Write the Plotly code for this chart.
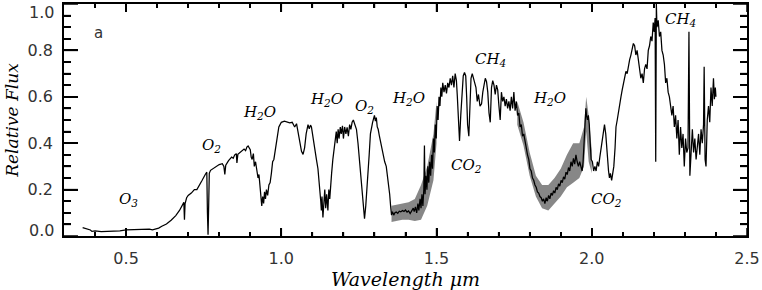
import plotly.graph_objects as go

# ---------------- data ----------------
wavelength = [
    0.360, 0.370, 0.380, 0.385, 0.390, 0.400, 0.420, 0.450, 0.480, 0.500,
    0.520, 0.540, 0.560, 0.575, 0.585, 0.595, 0.605,
    0.615, 0.630, 0.645, 0.660, 0.672, 0.682, 0.686, 0.688, 0.690, 0.695,
    0.700, 0.710, 0.715, 0.720, 0.728, 0.735, 0.745, 0.755, 0.760, 0.762,
    0.764, 0.766, 0.768, 0.772,
    0.780, 0.790, 0.800, 0.810, 0.815, 0.818, 0.821, 0.830, 0.840, 0.845,
    0.850, 0.855, 0.857, 0.860, 0.868, 0.875, 0.880, 0.885, 0.889, 0.893,
    0.897, 0.900, 0.903, 0.906, 0.910, 0.913, 0.917, 0.921, 0.925, 0.928,
    0.931, 0.934, 0.937, 0.940, 0.943, 0.946, 0.949, 0.952, 0.956, 0.960,
    0.964, 0.968, 0.972, 0.976, 0.980, 0.985, 0.988, 0.992, 0.996,
    1.000, 1.010, 1.020, 1.027, 1.035, 1.043, 1.049, 1.055, 1.060, 1.065,
    1.070, 1.075, 1.080, 1.086, 1.090, 1.094, 1.097, 1.102, 1.108, 1.113,
    1.118, 1.121, 1.124, 1.127, 1.129, 1.131, 1.134, 1.137, 1.140, 1.143,
    1.146, 1.150, 1.153, 1.156, 1.159, 1.162, 1.166, 1.170, 1.174, 1.177,
    1.180, 1.183, 1.186, 1.190, 1.193, 1.197, 1.200, 1.204, 1.208, 1.212,
    1.216, 1.220, 1.224, 1.228, 1.232, 1.236, 1.242, 1.247, 1.252, 1.256,
    1.260, 1.264, 1.268, 1.272, 1.276, 1.279, 1.283, 1.287, 1.290, 1.294,
    1.297, 1.300, 1.303, 1.306, 1.309, 1.312, 1.316, 1.320, 1.324, 1.328,
    1.333, 1.338, 1.342, 1.346, 1.349, 1.352, 1.355,
    1.358, 1.362, 1.366, 1.370, 1.375, 1.380, 1.385, 1.390, 1.395, 1.400,
    1.405, 1.410, 1.415, 1.420, 1.425, 1.428, 1.432, 1.436, 1.440, 1.443,
    1.447, 1.450, 1.453, 1.456, 1.459, 1.461, 1.463, 1.466, 1.469, 1.472,
    1.475, 1.478, 1.481, 1.484, 1.487, 1.490, 1.493, 1.496, 1.499, 1.502,
    1.505, 1.508, 1.511, 1.514, 1.517, 1.520, 1.524, 1.528, 1.532, 1.536,
    1.540, 1.544, 1.548, 1.552, 1.556, 1.560, 1.564, 1.567, 1.570, 1.574,
    1.578, 1.582, 1.586, 1.590, 1.594, 1.597, 1.600, 1.604, 1.607, 1.611,
    1.615, 1.619, 1.623, 1.627, 1.631, 1.635, 1.640, 1.645, 1.649, 1.653,
    1.657, 1.661, 1.665, 1.669, 1.673, 1.677, 1.681, 1.685, 1.689, 1.693,
    1.697, 1.701, 1.705, 1.709, 1.713, 1.717, 1.721, 1.725, 1.729, 1.733,
    1.737, 1.741, 1.745, 1.749, 1.753, 1.757, 1.761, 1.765, 1.769, 1.773,
    1.777, 1.781, 1.785, 1.789, 1.793, 1.797, 1.801, 1.805, 1.809, 1.813,
    1.817, 1.821, 1.825, 1.829, 1.833, 1.837, 1.841, 1.845, 1.849, 1.853,
    1.857, 1.861, 1.865, 1.869, 1.873, 1.877, 1.881, 1.885, 1.889, 1.893,
    1.897, 1.901, 1.905, 1.909, 1.913, 1.917, 1.921, 1.925, 1.929, 1.933,
    1.937, 1.941, 1.945, 1.949, 1.953, 1.957, 1.961, 1.965, 1.969, 1.972,
    1.975, 1.978, 1.981, 1.983, 1.986, 1.989, 1.992, 1.995, 1.998, 2.002,
    2.006, 2.010, 2.014, 2.018, 2.022, 2.026, 2.030, 2.034, 2.038, 2.041,
    2.045, 2.048, 2.051, 2.054, 2.057, 2.060, 2.064, 2.067, 2.071, 2.075,
    2.078, 2.082, 2.086, 2.090, 2.094, 2.098, 2.102, 2.106, 2.110, 2.114,
    2.118, 2.122, 2.126, 2.130, 2.134, 2.138, 2.142, 2.146, 2.150, 2.154,
    2.158, 2.162, 2.166, 2.170, 2.174, 2.178, 2.182, 2.186, 2.190, 2.194,
    2.198, 2.201, 2.204, 2.206, 2.208, 2.210, 2.214, 2.218, 2.222, 2.226,
    2.230, 2.234, 2.238, 2.242, 2.246, 2.250, 2.254, 2.258, 2.262, 2.266,
    2.270, 2.274, 2.278, 2.282, 2.286, 2.290, 2.294, 2.298, 2.302, 2.306,
    2.310, 2.313, 2.316, 2.320, 2.324, 2.328, 2.332, 2.336, 2.340, 2.344,
    2.348, 2.352, 2.356, 2.360, 2.362, 2.365, 2.368, 2.372, 2.376, 2.380,
    2.384, 2.388, 2.392, 2.395, 2.398, 2.400,
]

flux = [
    0.036, 0.033, 0.030, 0.026, 0.020, 0.022, 0.019, 0.020, 0.022, 0.026,
    0.027, 0.028, 0.029, 0.030, 0.027, 0.030, 0.034,
    0.042, 0.052, 0.068, 0.088, 0.110, 0.135, 0.145, 0.070, 0.140, 0.165,
    0.175, 0.185, 0.192, 0.200, 0.200, 0.215, 0.240, 0.265, 0.275, 0.100,
    0.005, 0.130, 0.270, 0.283,
    0.290, 0.300, 0.308, 0.312, 0.300, 0.265, 0.305, 0.325, 0.340, 0.335,
    0.350, 0.355, 0.315, 0.352, 0.362, 0.370, 0.375, 0.368, 0.383, 0.388,
    0.378, 0.372, 0.340, 0.330, 0.355, 0.300, 0.320, 0.280, 0.250, 0.265,
    0.220, 0.175, 0.130, 0.170, 0.140, 0.190, 0.160, 0.200, 0.175, 0.220,
    0.230, 0.270, 0.320, 0.330, 0.370, 0.420, 0.445, 0.470, 0.480,
    0.490, 0.495, 0.492, 0.488, 0.490, 0.470, 0.484, 0.440, 0.400, 0.365,
    0.352, 0.380, 0.440, 0.480, 0.462, 0.478, 0.470, 0.420, 0.370, 0.330,
    0.290, 0.250, 0.200, 0.150, 0.110, 0.170, 0.080, 0.150, 0.200, 0.120,
    0.180, 0.110, 0.200, 0.160, 0.240, 0.270, 0.330, 0.380, 0.410, 0.450,
    0.400, 0.460, 0.420, 0.470, 0.440, 0.475, 0.420, 0.470, 0.440, 0.468,
    0.430, 0.480, 0.460, 0.490, 0.500, 0.480, 0.460, 0.400, 0.320, 0.250,
    0.180, 0.120, 0.075, 0.130, 0.200, 0.260, 0.350, 0.440, 0.470, 0.490,
    0.505, 0.520, 0.495, 0.510, 0.470, 0.460, 0.430, 0.400, 0.380, 0.350,
    0.320, 0.300, 0.260, 0.220, 0.180, 0.130, 0.090,
    0.105, 0.090, 0.100, 0.103, 0.098, 0.107, 0.104, 0.110, 0.106, 0.112,
    0.103, 0.108, 0.097, 0.110, 0.120, 0.105, 0.125, 0.100, 0.140, 0.110,
    0.160, 0.120, 0.180, 0.130, 0.200, 0.390, 0.180, 0.260, 0.200, 0.300,
    0.230, 0.320, 0.260, 0.350, 0.290, 0.420, 0.360, 0.480, 0.420, 0.560,
    0.500, 0.600, 0.560, 0.640, 0.600, 0.660, 0.620, 0.650, 0.615, 0.660,
    0.640, 0.680, 0.650, 0.690, 0.640, 0.700, 0.670, 0.600, 0.500, 0.410,
    0.520, 0.640, 0.690, 0.705, 0.690, 0.600, 0.480, 0.430, 0.560, 0.680,
    0.700, 0.680, 0.660, 0.640, 0.580, 0.610, 0.560, 0.570, 0.620, 0.650,
    0.680, 0.665, 0.620, 0.530, 0.490, 0.640, 0.670, 0.650, 0.610, 0.650,
    0.630, 0.560, 0.500, 0.620, 0.580, 0.600, 0.560, 0.590, 0.550, 0.580,
    0.540, 0.600, 0.550, 0.620, 0.540, 0.580, 0.520, 0.530, 0.470, 0.480,
    0.430, 0.440, 0.400, 0.380, 0.350, 0.330, 0.290, 0.280, 0.250, 0.240,
    0.220, 0.210, 0.190, 0.185, 0.170, 0.165, 0.150, 0.160, 0.140, 0.165,
    0.150, 0.175, 0.160, 0.185, 0.175, 0.195, 0.185, 0.210, 0.200, 0.225,
    0.215, 0.240, 0.230, 0.255, 0.245, 0.275, 0.265, 0.295, 0.280, 0.320,
    0.300, 0.335, 0.310, 0.350, 0.320, 0.300, 0.320, 0.300, 0.280, 0.320,
    0.400, 0.480, 0.550, 0.520, 0.500, 0.520, 0.480, 0.400, 0.330, 0.320,
    0.280, 0.300, 0.280, 0.320, 0.300, 0.340, 0.380, 0.420, 0.460, 0.480,
    0.440, 0.380, 0.330, 0.280, 0.250, 0.270, 0.240, 0.260, 0.300, 0.380,
    0.470, 0.500, 0.540, 0.580, 0.600, 0.630, 0.660, 0.680, 0.710, 0.700,
    0.740, 0.760, 0.780, 0.800, 0.830, 0.820, 0.780, 0.800, 0.750, 0.720,
    0.680, 0.700, 0.660, 0.720, 0.740, 0.720, 0.800, 0.820, 0.860, 0.840,
    0.920, 0.880, 0.940, 0.320, 1.000, 0.900, 0.930, 0.860, 0.880, 0.800,
    0.780, 0.740, 0.660, 0.680, 0.620, 0.600, 0.560, 0.520, 0.560, 0.470,
    0.520, 0.420, 0.500, 0.350, 0.470, 0.380, 0.440, 0.300, 0.420, 0.360,
    0.380, 0.880, 0.260, 0.380, 0.460, 0.360, 0.420, 0.330, 0.400, 0.440,
    0.350, 0.460, 0.400, 0.480, 0.730, 0.330, 0.300, 0.500, 0.560, 0.490,
    0.640, 0.560, 0.680, 0.590, 0.640, 0.600,
]

# grey uncertainty envelope (two visible stretches)
band1_wl = [1.355, 1.37, 1.39, 1.41, 1.43, 1.45, 1.47, 1.49, 1.50]
band1_lo = [0.060, 0.065, 0.070, 0.070, 0.065, 0.070, 0.130, 0.240, 0.400]
band1_hi = [0.130, 0.135, 0.140, 0.145, 0.160, 0.220, 0.300, 0.440, 0.580]

band2_wl = [1.76, 1.78, 1.80, 1.82, 1.84, 1.86, 1.88, 1.90, 1.92, 1.94,
            1.96, 1.975, 1.982, 1.99, 2.00]
band2_lo = [0.48, 0.39, 0.26, 0.17, 0.12, 0.11, 0.14, 0.17, 0.21, 0.23,
            0.25, 0.30, 0.45, 0.32, 0.27]
band2_hi = [0.58, 0.49, 0.36, 0.26, 0.22, 0.22, 0.25, 0.29, 0.35, 0.40,
            0.40, 0.47, 0.60, 0.52, 0.37]

# axis ticks
x_range = [0.3, 2.5]
x_major = [0.5, 1.0, 1.5, 2.0, 2.5]
x_major_text = ["0.5", "1.0", "1.5", "2.0", "2.5"]
x_minor = [0.4, 0.6, 0.7, 0.8, 0.9, 1.1, 1.2, 1.3, 1.4, 1.6, 1.7, 1.8, 1.9,
           2.1, 2.2, 2.3, 2.4]
y_range = [0.0, 1.0]
y_major = [0.0, 0.2, 0.4, 0.6, 0.8, 1.0]
y_major_text = ["", "0.2", "0.4", "0.6", "0.8", ""]
y_end_labels = ["0.0", "1.0"]   # drawn slightly inside the frame, as in the reference
y_minor = [0.05, 0.10, 0.15, 0.25, 0.30, 0.35, 0.45, 0.50, 0.55, 0.65, 0.70,
           0.75, 0.85, 0.90, 0.95]

species_text = ["O<sub>3</sub>", "O<sub>2</sub>", "H<sub>2</sub>O", "H<sub>2</sub>O",
                "O<sub>2</sub>", "H<sub>2</sub>O", "CH<sub>4</sub>", "CO<sub>2</sub>",
                "H<sub>2</sub>O", "CO<sub>2</sub>", "CH<sub>4</sub>"]
species_x = [0.509, 0.775, 0.931, 1.145, 1.267, 1.410, 1.675, 1.597, 1.864, 2.047, 2.287]
species_y = [0.157, 0.391, 0.532, 0.587, 0.560, 0.591, 0.762, 0.302, 0.591, 0.157, 0.934]

panel_label = "a"
panel_x = 0.411
panel_y = 0.874

assert len(wavelength) == len(flux), (len(wavelength), len(flux))

# ---------------- layout geometry ----------------
W, H = 762, 290
M = dict(l=64, r=14, t=2, b=54)
plot_w = W - M["l"] - M["r"]
plot_h = H - M["t"] - M["b"]
x_per_px = (x_range[1] - x_range[0]) / plot_w
y_per_px = (y_range[1] - y_range[0]) / plot_h

# ---------------- figure ----------------
fig = go.Figure()

for bw, blo, bhi in [(band1_wl, band1_lo, band1_hi), (band2_wl, band2_lo, band2_hi)]:
    fig.add_trace(go.Scatter(
        x=bw + bw[::-1], y=bhi + blo[::-1], fill="toself", mode="lines",
        line=dict(width=0), fillcolor="rgb(135,135,135)", hoverinfo="skip"))

fig.add_trace(go.Scatter(x=wavelength, y=flux, mode="lines",
                         line=dict(color="black", width=1.25)))

# inside tick marks on all four sides (same positions as the axis ticks)
tx, ty = [], []
for vals, length_px in [(x_major, 8), (x_minor, 4)]:
    d = length_px * y_per_px
    for v in vals:
        tx += [v, v, None, v, v, None]
        ty += [y_range[0], y_range[0] + d, None, y_range[1], y_range[1] - d, None]
for vals, length_px in [(y_major, 14), (y_minor, 7)]:
    d = length_px * x_per_px
    for v in vals:
        tx += [x_range[0], x_range[0] + d, None, x_range[1], x_range[1] - d, None]
        ty += [v, v, None, v, v, None]
fig.add_trace(go.Scatter(x=tx, y=ty, mode="lines", line=dict(color="black", width=1.5),
                         hoverinfo="skip", cliponaxis=False))

serif_it = dict(family="DejaVu Serif", size=15, color="black", style="italic")
for t, xx, yy in zip(species_text, species_x, species_y):
    fig.add_annotation(x=xx, y=yy, xref="x", yref="y", text=t, showarrow=False,
                       font=serif_it, xanchor="center", yanchor="middle")

fig.add_annotation(x=panel_x, y=panel_y, xref="x", yref="y", text=panel_label,
                   showarrow=False, font=dict(family="DejaVu Sans", size=15, color="#333"))

tickfont = dict(family="DejaVu Sans", size=16, color="#333")

for v, t, shift in [(y_range[0], y_end_labels[0], 6), (y_range[1], y_end_labels[1], -8)]:
    fig.add_annotation(x=0, xref="paper", xanchor="right", xshift=-8,
                       y=v, yref="y", yanchor="middle", yshift=shift,
                       text=t, showarrow=False, font=tickfont)

fig.update_layout(
    width=W, height=H,
    margin=M,
    plot_bgcolor="white", paper_bgcolor="white",
    showlegend=False,
    xaxis=dict(
        range=x_range, showgrid=False, zeroline=False,
        showline=True, linecolor="black", linewidth=1.5, mirror="allticks",
        tickmode="array", tickvals=x_major, ticktext=x_major_text,
        ticks="inside", ticklen=8, tickwidth=1.5, tickcolor="black",
        tickfont=tickfont, ticklabelstandoff=7,
        minor=dict(tickmode="array", tickvals=x_minor, ticks="inside", ticklen=4,
                   tickwidth=1.5, tickcolor="black", showgrid=False),
        title=dict(text="Wavelength μm", standoff=6,
                   font=dict(family="DejaVu Serif", size=19, color="black", style="italic")),
    ),
    yaxis=dict(
        range=y_range, showgrid=False, zeroline=False,
        showline=True, linecolor="black", linewidth=1.5, mirror="allticks",
        tickmode="array", tickvals=y_major, ticktext=y_major_text,
        ticks="inside", ticklen=14, tickwidth=1.5, tickcolor="black",
        tickfont=tickfont, ticklabelstandoff=6,
        minor=dict(tickmode="array", tickvals=y_minor, ticks="inside", ticklen=7,
                   tickwidth=1.5, tickcolor="black", showgrid=False),
        title=dict(text="Relative Flux", standoff=5,
                   font=dict(family="DejaVu Serif", size=17, color="black", style="italic")),
    ),
)

fig.write_html("out.html", config={"displayModeBar": False},
               post_script="document.body.style.margin='0';document.body.style.padding='0';")
